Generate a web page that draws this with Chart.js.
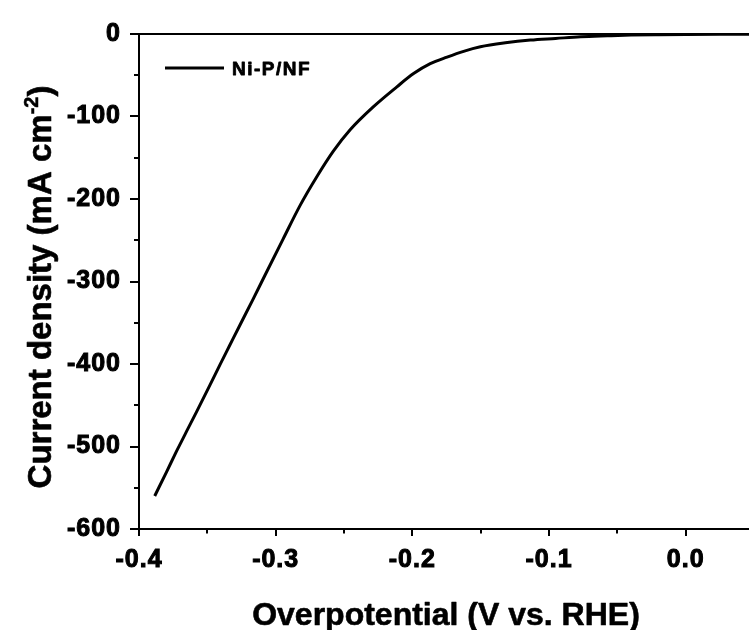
<!DOCTYPE html>
<html><head><meta charset="utf-8">
<script src="https://cdn.jsdelivr.net/npm/chart.js@4"></script>
<style>
html,body{margin:0;padding:0;overflow:hidden;background:#fff;width:749px;height:630px}
canvas{display:block}
</style></head>
<body><canvas id="c" width="754" height="630"></canvas>
<script>
// ---- data ----
const seriesLabel = 'Ni-P/NF';
const potential = [-0.3885,-0.3799,-0.3726,-0.3653,-0.3579,-0.3482,-0.3408,-0.3335,-0.3262,-0.3164,-0.3080,-0.2944,-0.2822,-0.2699,-0.2578,-0.2455,-0.2284,-0.2113,-0.1991,-0.1869,-0.1746,-0.1625,-0.1502,-0.1319,-0.1136,-0.0952,-0.0769,-0.0573,-0.0400,-0.0200,0.0000,0.0250,0.0500];
const current = [-560,-531,-506,-482,-458,-426,-401,-377,-353,-321,-293,-248,-208,-173,-142,-116,-88,-64,-48,-36,-28,-21,-15.5,-10.7,-7.4,-5.4,-3.4,-2.2,-1.3,-0.8,-0.5,-0.3,-0.2];
const xMajorTicks = [-0.4,-0.3,-0.2,-0.1,0.0];
const xMinorTicks = [-0.35,-0.25,-0.15,-0.05,0.05];
const yMajorTicks = [-600,-500,-400,-300,-200,-100,0];
const yMinorTicks = [-550,-450,-350,-250,-150,-50];
const xTitle = 'Overpotential (V vs. RHE)';
const yTitleMain = 'Current density (mA cm';
const yTitleSup = '-2';
const yTitleEnd = ')';

const FONT = "'Liberation Sans', Arial, sans-serif";
Chart.defaults.font.family = FONT;
Chart.defaults.font.weight = 'bold';
Chart.defaults.color = '#000';

function heavyText(ctx, txt, x, y, sw) {
  ctx.lineWidth = sw; ctx.lineJoin = 'round';
  ctx.strokeText(txt, x, y);
  ctx.fillText(txt, x, y);
}

const framePlugin = {
  id: 'frame',
  beforeDraw(chart) {
    const ctx = chart.ctx;
    ctx.save();
    ctx.fillStyle = '#fff';
    ctx.fillRect(0, 0, chart.width, chart.height);
    ctx.restore();
    ctx.letterSpacing = '1px';
  },
  afterDraw(chart) {
    const ctx = chart.ctx, a = chart.chartArea;
    const xs = chart.scales.x, ys = chart.scales.y;
    ctx.save();
    ctx.letterSpacing = '0px';
    ctx.strokeStyle = '#000';
    ctx.fillStyle = '#000';
    ctx.lineWidth = 2;
    // top frame line
    ctx.beginPath(); ctx.moveTo(a.left - 1, a.top); ctx.lineTo(a.right, a.top); ctx.stroke();
    // ticks (outward)
    const xt = (vals, len) => vals.forEach(v => {
      const p = Math.round(xs.getPixelForValue(v));
      ctx.beginPath(); ctx.moveTo(p, a.bottom); ctx.lineTo(p, a.bottom + len); ctx.stroke();
    });
    const yt = (vals, len) => vals.forEach(v => {
      const p = Math.round(ys.getPixelForValue(v));
      ctx.beginPath(); ctx.moveTo(a.left, p); ctx.lineTo(a.left - len, p); ctx.stroke();
    });
    xt(xMajorTicks, 7); xt(xMinorTicks, 4.5);
    yt(yMajorTicks, 9); yt(yMinorTicks, 5);

    // legend
    const ds = chart.data.datasets[0];
    ctx.lineWidth = 3;
    ctx.beginPath(); ctx.moveTo(165, 68); ctx.lineTo(224, 68); ctx.stroke();
    ctx.font = "bold 19px " + FONT;
    ctx.letterSpacing = '1.5px';
    ctx.textAlign = 'left'; ctx.textBaseline = 'alphabetic';
    heavyText(ctx, ds.label, 232, 75, 0.8);
    ctx.letterSpacing = '0px';

    // x title
    ctx.font = "bold 32px " + FONT;
    ctx.textAlign = 'center';
    heavyText(ctx, xTitle, (a.left + a.right) / 2 - 0.5, 625, 0.6);

    // y title (rotated, with superscript)
    const big = "bold 33px " + FONT, small = "bold 20px " + FONT;
    ctx.font = big; const w1 = ctx.measureText(yTitleMain).width, w3 = ctx.measureText(yTitleEnd).width;
    ctx.font = small; const w2 = ctx.measureText(yTitleSup).width;
    const total = w1 + w2 + w3;
    ctx.translate(51, 287);
    ctx.rotate(-Math.PI / 2);
    ctx.textAlign = 'left';
    let x0 = -total / 2;
    ctx.font = big; heavyText(ctx, yTitleMain, x0, 0, 0.6);
    ctx.font = small; heavyText(ctx, yTitleSup, x0 + w1, -13, 0.5);
    ctx.font = big; heavyText(ctx, yTitleEnd, x0 + w1 + w2, 0, 0.6);
    ctx.restore();
  }
};

new Chart(document.getElementById('c'), {
  type: 'line',
  data: {
    datasets: [{
      label: seriesLabel,
      data: potential.map((x, i) => ({ x, y: current[i] })),
      borderColor: '#000',
      backgroundColor: '#000',
      borderWidth: 3,
      pointRadius: 0,
      cubicInterpolationMode: 'monotone',
      fill: false
    }]
  },
  options: {
    responsive: false,
    devicePixelRatio: 1,
    animation: false,
    layout: { padding: { top: 34, right: 0, left: 0, bottom: 0 } },
    plugins: { legend: { display: false }, tooltip: { enabled: false } },
    scales: {
      x: {
        type: 'linear', min: -0.4, max: 0.05,
        afterBuildTicks: s => { s.ticks = xMajorTicks.map(v => ({ value: v })); },
        afterFit: s => { s.height = 101; s.paddingLeft = 0; s.paddingRight = 0; },
        grid: { display: false, drawTicks: false },
        border: { display: true, color: '#000', width: 2 },
        ticks: {
          font: { size: 25, weight: 'bold' }, color: '#000', padding: 16, maxRotation: 0, autoSkip: false,
          textStrokeColor: '#000', textStrokeWidth: 1,
          callback: v => Math.abs(v) < 1e-9 ? '0.0' : Number(v).toFixed(1)
        }
      },
      y: {
        type: 'linear', min: -600, max: 0,
        afterBuildTicks: s => { s.ticks = yMajorTicks.map(v => ({ value: v })); },
        afterFit: s => { s.width = 139; s.paddingTop = 0; s.paddingBottom = 0; },
        grid: { display: false, drawTicks: false },
        border: { display: true, color: '#000', width: 2 },
        ticks: {
          font: { size: 25, weight: 'bold' }, color: '#000', padding: 18, autoSkip: false,
          textStrokeColor: '#000', textStrokeWidth: 1,
          callback: v => String(Math.round(v))
        }
      }
    }
  },
  plugins: [framePlugin]
});
</script>
</body></html>
